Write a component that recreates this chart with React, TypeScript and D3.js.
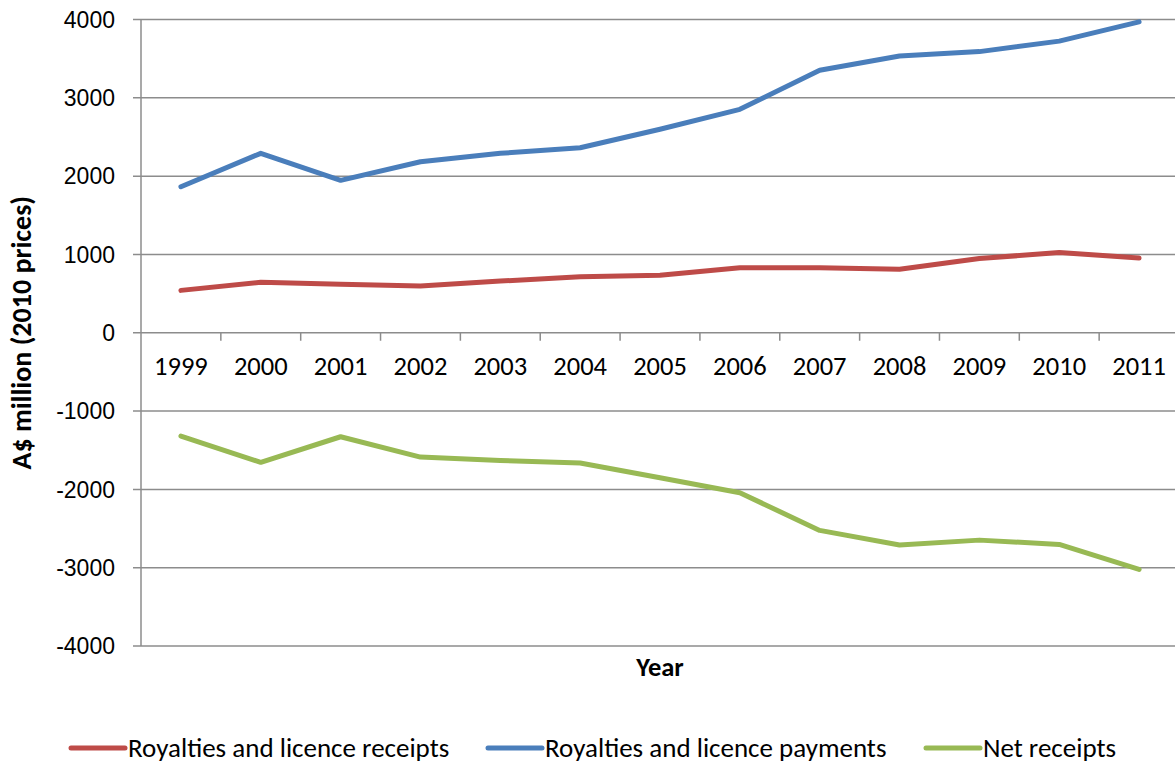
import React from "react";
import * as d3 from "d3";

const years = ["1999","2000","2001","2002","2003","2004","2005","2006","2007","2008","2009","2010","2011"];
const receipts = [541, 644, 618, 596, 660, 715, 733, 830, 830, 810, 948, 1024, 953];
const payments = [1865, 2291, 1946, 2184, 2291, 2363, 2598, 2853, 3351, 3534, 3590, 3724, 3970];
const netReceipts = [-1319, -1655, -1328, -1588, -1630, -1664, -1852, -2043, -2524, -2711, -2648, -2703, -3023];
const yTicks = [4000, 3000, 2000, 1000, 0, -1000, -2000, -3000, -4000];

const seriesList = [
  { name: "Royalties and licence receipts", values: receipts, color: "#BE4B48" },
  { name: "Royalties and licence payments", values: payments, color: "#4A7EBB" },
  { name: "Net receipts", values: netReceipts, color: "#98B954" },
];

const W = 1175, H = 767;
const left = 141, right = 1179, top = 19.5, bottom = 646;
const calibri = "Carlito, Calibri, 'Open Sans', sans-serif";

export default function App() {
  const x = d3.scaleBand<string>().domain(years).range([left, right]).paddingInner(0).paddingOuter(0);
  const y = d3.scaleLinear().domain([-4000, 4000]).range([bottom, top]);
  const line = d3.line<number>().x((_, i) => (x(years[i]) as number) + x.bandwidth() / 2).y(d => y(d));
  const boundaries = years.map((yr) => (x(yr) as number) + x.bandwidth());
  const legendX = [71, 488, 926];
  return (
    <svg width={W} height={H} style={{ position: "absolute", left: 0, top: 0, background: "#fff" }}>
      <rect width={W} height={H} fill="#fff" />
      {yTicks.map(t => (
        <g key={t}>
          <line x1={left - 8} x2={right} y1={y(t)} y2={y(t)} stroke="#8c8c8c" strokeWidth={1.5} />
          <text x={115} y={y(t)} dy="0.36em" textAnchor="end" fontFamily="'Liberation Sans', Arial, sans-serif" fontSize={23} fill="#000">{t}</text>
        </g>
      ))}
      <line x1={left} x2={left} y1={top} y2={bottom} stroke="#8c8c8c" strokeWidth={1.5} />
      {boundaries.map((b, i) => (
        <line key={i} x1={b} x2={b} y1={y(0)} y2={y(0) + 8} stroke="#8c8c8c" strokeWidth={1.5} />
      ))}
      {years.map(yr => (
        <text key={yr} x={(x(yr) as number) + x.bandwidth() / 2} y={375} textAnchor="middle" fontFamily={calibri} fontSize={26.5} fill="#000">{yr}</text>
      ))}
      {seriesList.map(s => (
        <path key={s.name} d={line(s.values) || ""} fill="none" stroke={s.color} strokeWidth={5} strokeLinejoin="round" strokeLinecap="round" />
      ))}
      <text transform={`translate(31, ${y(0)}) rotate(-90)`} textAnchor="middle" fontFamily={calibri} fontWeight="bold" fontSize={28} fill="#000">A$ million (2010 prices)</text>
      <text x={(left + right) / 2} y={676} textAnchor="middle" fontFamily={calibri} fontWeight="bold" fontSize={26.5} fill="#000">Year</text>
      {seriesList.map((s, i) => (
        <g key={s.name}>
          <line x1={legendX[i]} x2={legendX[i] + 54} y1={748} y2={748} stroke={s.color} strokeWidth={5} strokeLinecap="round" />
          <text x={legendX[i] + 57} y={757} fontFamily={calibri} fontSize={27} fill="#000">{s.name}</text>
        </g>
      ))}
    </svg>
  );
}
